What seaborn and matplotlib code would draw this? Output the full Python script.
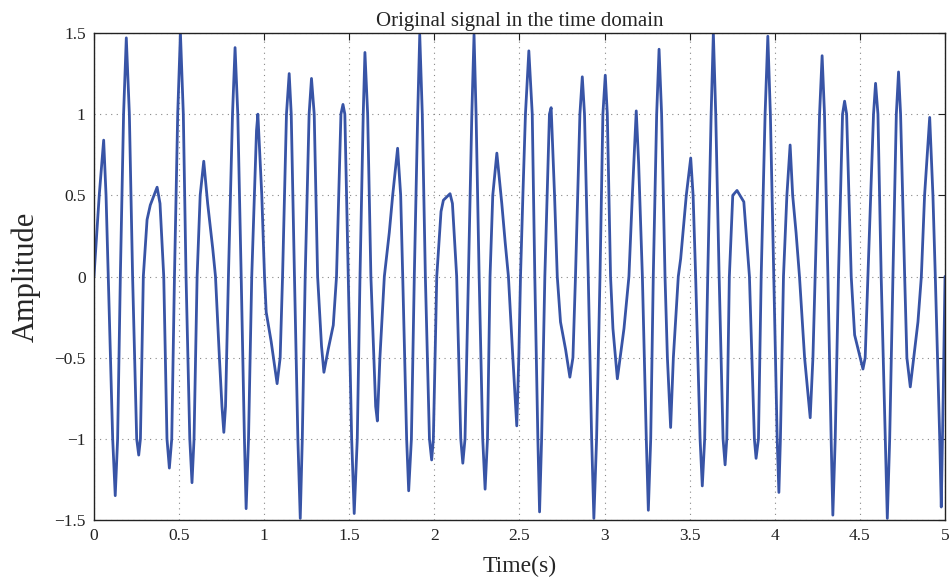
import numpy as np
import pandas as pd
import matplotlib
matplotlib.use('Agg')
import matplotlib.pyplot as plt
import seaborn as sns

# values: extrema, shoulders and level crossings
time_s = [
    0.000, 0.031, 0.057, 0.071, 0.084, 0.110, 0.125, 0.139, 0.155, 0.174,
    0.190, 0.208, 0.227, 0.251, 0.263, 0.273, 0.290, 0.312, 0.331, 0.371,
    0.388, 0.410, 0.429, 0.443, 0.457, 0.473, 0.492, 0.508, 0.525, 0.541,
    0.563, 0.576, 0.588, 0.606, 0.624, 0.645, 0.668, 0.698, 0.714, 0.737,
    0.752, 0.763, 0.773, 0.790, 0.814, 0.829, 0.845, 0.865, 0.884, 0.894,
    0.908, 0.927, 0.955, 0.963, 0.986, 1.002, 1.012, 1.041, 1.076, 1.094,
    1.108, 1.131, 1.147, 1.159, 1.178, 1.198, 1.212, 1.224, 1.241, 1.264,
    1.278, 1.294, 1.314, 1.337, 1.351, 1.376, 1.406, 1.425, 1.451, 1.463,
    1.474, 1.494, 1.514, 1.529, 1.547, 1.563, 1.582, 1.592, 1.608, 1.627,
    1.655, 1.665, 1.680, 1.706, 1.735, 1.755, 1.784, 1.802, 1.814, 1.837,
    1.849, 1.865, 1.882, 1.902, 1.914, 1.929, 1.947, 1.971, 1.984, 1.994,
    2.014, 2.039, 2.053, 2.092, 2.106, 2.131, 2.155, 2.167, 2.180, 2.200,
    2.220, 2.233, 2.245, 2.263, 2.284, 2.298, 2.312, 2.327, 2.343, 2.367,
    2.396, 2.416, 2.435, 2.461, 2.484, 2.496, 2.506, 2.520, 2.535, 2.555,
    2.575, 2.590, 2.608, 2.618, 2.630, 2.649, 2.676, 2.686, 2.706, 2.722,
    2.741, 2.771, 2.796, 2.814, 2.829, 2.855, 2.869, 2.882, 2.904, 2.924,
    2.937, 2.953, 2.973, 2.990, 3.004, 3.016, 3.035, 3.049, 3.075, 3.114,
    3.143, 3.163, 3.186, 3.200, 3.222, 3.245, 3.257, 3.271, 3.286, 3.306,
    3.320, 3.335, 3.355, 3.369, 3.388, 3.404, 3.433, 3.447, 3.480, 3.506,
    3.520, 3.535, 3.561, 3.574, 3.588, 3.606, 3.626, 3.639, 3.653, 3.673,
    3.696, 3.708, 3.718, 3.733, 3.753, 3.778, 3.818, 3.851, 3.880, 3.890,
    3.904, 3.920, 3.943, 3.959, 3.974, 3.994, 4.014, 4.024, 4.033, 4.051,
    4.071, 4.090, 4.105, 4.125, 4.145, 4.175, 4.208, 4.224, 4.237, 4.263,
    4.278, 4.292, 4.312, 4.331, 4.341, 4.355, 4.374, 4.398, 4.410, 4.422,
    4.449, 4.469, 4.518, 4.531, 4.547, 4.580, 4.592, 4.606, 4.625, 4.649,
    4.661, 4.675, 4.694, 4.714, 4.727, 4.739, 4.763, 4.776, 4.796, 4.841,
    4.861, 4.880, 4.910, 4.929, 4.943, 4.969, 4.978, 4.990, 5.000]
amplitude = [
    0.00, 0.50, 0.84, 0.50, 0.00, -1.00, -1.35, -1.00, 0.00, 1.00,
    1.47, 1.00, 0.00, -1.00, -1.10, -1.00, 0.00, 0.35, 0.44, 0.55,
    0.45, 0.00, -1.00, -1.18, -1.00, 0.00, 1.00, 1.50, 1.00, 0.00,
    -1.00, -1.27, -1.00, 0.00, 0.50, 0.71, 0.45, 0.17, 0.00, -0.50,
    -0.80, -0.96, -0.80, 0.00, 1.00, 1.41, 1.00, 0.00, -1.00, -1.43,
    -1.00, 0.00, 0.90, 1.00, 0.50, 0.00, -0.22, -0.40, -0.66, -0.50,
    0.00, 1.00, 1.25, 1.00, 0.00, -1.00, -1.49, -1.00, 0.00, 1.00,
    1.22, 1.00, 0.00, -0.43, -0.59, -0.45, -0.30, 0.00, 1.00, 1.06,
    1.00, 0.00, -1.00, -1.46, -1.00, 0.00, 1.00, 1.38, 1.00, 0.00,
    -0.80, -0.89, -0.50, 0.00, 0.27, 0.50, 0.79, 0.50, 0.00, -1.00,
    -1.32, -1.00, 0.00, 1.00, 1.49, 1.00, 0.00, -1.00, -1.13, -1.00,
    0.00, 0.40, 0.47, 0.51, 0.45, 0.00, -1.00, -1.15, -1.00, 0.00,
    1.00, 1.49, 1.00, 0.00, -1.00, -1.31, -1.00, 0.00, 0.50, 0.76,
    0.45, 0.21, 0.00, -0.50, -0.92, -0.50, 0.00, 0.50, 1.00, 1.39,
    1.00, 0.00, -1.00, -1.45, -1.00, 0.00, 1.00, 1.04, 0.50, 0.00,
    -0.28, -0.45, -0.62, -0.50, 0.00, 1.00, 1.23, 1.00, 0.00, -1.00,
    -1.49, -1.00, 0.00, 1.00, 1.24, 1.00, 0.00, -0.32, -0.63, -0.32,
    0.00, 0.50, 1.02, 0.70, 0.00, -1.00, -1.44, -1.00, 0.00, 1.00,
    1.40, 1.00, 0.00, -0.50, -0.93, -0.50, 0.00, 0.11, 0.50, 0.73,
    0.50, 0.00, -1.00, -1.29, -1.00, 0.00, 1.00, 1.50, 1.00, 0.00,
    -1.00, -1.16, -1.00, 0.00, 0.50, 0.53, 0.46, 0.00, -1.00, -1.12,
    -1.00, 0.00, 1.00, 1.48, 1.00, 0.00, -1.00, -1.33, -1.00, 0.00,
    0.50, 0.81, 0.50, 0.27, 0.00, -0.50, -0.87, -0.50, 0.00, 1.00,
    1.36, 1.00, 0.00, -1.00, -1.47, -1.00, 0.00, 1.00, 1.08, 1.00,
    0.00, -0.36, -0.57, -0.50, 0.00, 1.00, 1.19, 1.00, 0.00, -1.00,
    -1.49, -1.00, 0.00, 1.00, 1.26, 1.00, 0.00, -0.50, -0.68, -0.28,
    0.00, 0.50, 0.98, 0.50, 0.00, -1.00, -1.42, -0.70, 0.00]

x_ticks = [0, 0.5, 1, 1.5, 2, 2.5, 3, 3.5, 4, 4.5, 5]
x_labels = ['0', '0.5', '1', '1.5', '2', '2.5', '3', '3.5', '4', '4.5', '5']
y_ticks = [-1.5, -1, -0.5, 0, 0.5, 1, 1.5]
y_labels = ['\u22121.5', '\u22121', '\u22120.5', '0', '0.5', '1', '1.5']

df = pd.DataFrame({'t': time_s, 'a': amplitude})

sns.set_style('white')
plt.rcParams['font.family'] = ['Liberation Serif', 'DejaVu Serif']

fig = plt.figure(figsize=(9.51, 5.86), dpi=100)
ax = fig.add_axes([0.0988, 0.1126, 0.8949, 0.8311])

sns.lineplot(data=df, x='t', y='a', ax=ax, color='#3854a6', linewidth=2.0,
             sort=False)
ax.lines[0].set_solid_joinstyle('round')

ax.set_xlim(0, 5)
ax.set_ylim(-1.5, 1.5)
ax.set_xticks(x_ticks)
ax.set_xticklabels(x_labels)
ax.set_yticks(y_ticks)
ax.set_yticklabels(y_labels)
ax.tick_params(direction='in', top=True, right=True, length=5, width=0.8,
               labelsize=12.5, colors='#222222', pad=6)
ax.grid(True, linestyle=(0, (1, 4)), color='#888888', linewidth=0.8)
for sp in ax.spines.values():
    sp.set_color('#222222')
    sp.set_linewidth(1.0)

ax.set_title('Original signal in the time domain', fontsize=15, pad=5)
ax.set_xlabel('Time(s)', fontsize=17, labelpad=8)
ax.set_ylabel('Amplitude', fontsize=22, labelpad=10)

fig.savefig('out.png', dpi=100)
